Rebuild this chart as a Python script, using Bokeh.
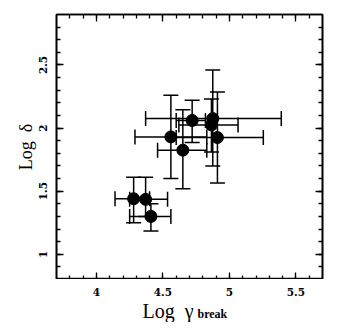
import numpy as np
from bokeh.plotting import figure
from bokeh.layouts import column
from bokeh.models import (ColumnDataSource, Whisker, TeeHead, FixedTicker, LinearAxis,
                          Range1d)
from bokeh.core.properties import value
from bokeh.embed import file_html
from bokeh.resources import INLINE

# ---- data ----
log_gamma = [4.28, 4.37, 4.41, 4.56, 4.65, 4.72, 4.875, 4.865, 4.91]
log_delta = [1.44, 1.435, 1.30, 1.93, 1.825, 2.06, 2.075, 2.025, 1.925]
gamma_lo = [4.14, 4.25, 4.25, 4.29, 4.46, 4.60, 4.37, 4.62, 4.60]
gamma_hi = [4.40, 4.535, 4.56, 4.83, 4.83, 4.82, 5.39, 5.065, 5.255]
delta_lo = [1.25, 1.30, 1.185, 1.60, 1.52, 1.885, 1.70, 1.81, 1.565]
delta_hi = [1.61, 1.61, 1.40, 2.26, 2.145, 2.22, 2.46, 2.23, 2.285]

x_ticks = [4, 4.5, 5, 5.5]
x_tick_labels = ["4", "4.5", "5", "5.5"]
y_ticks = [1, 1.5, 2, 2.5]
y_tick_labels = ["1", "1.5", "2", "2.5"]
x_range = (3.7, 5.7)
y_range = (0.8, 2.9)
x_title_main = "Log\u2002γ"
x_title_sub = "break"
y_title = "Log\u2002δ"

x_minor = [round(v, 1) for v in np.arange(3.8, 5.65, 0.1)]
y_minor = [round(v, 1) for v in np.arange(0.9, 2.85, 0.1)]

src = ColumnDataSource(dict(x=log_gamma, y=log_delta, xl=gamma_lo, xh=gamma_hi,
                            yl=delta_lo, yh=delta_hi))

FONT = "Liberation Serif"
TICK_FONT = "DejaVu Serif"

xr = Range1d(*x_range)
p = figure(frame_width=266, frame_height=265, output_backend="svg", toolbar_location=None,
           x_range=xr, y_range=Range1d(*y_range),
           min_border_left=56, min_border_top=14, min_border_right=16, min_border_bottom=0,
           x_axis_location=None, y_axis_location=None)
p.grid.visible = False
p.background_fill_color = "white"
p.border_fill_color = "white"
p.outline_line_color = "black"
p.outline_line_width = 1.6


def make_axis(ticks, minor, labels, show):
    ax = LinearAxis(ticker=FixedTicker(ticks=ticks, minor_ticks=minor))
    ax.major_tick_in = 7
    ax.major_tick_out = 0
    ax.minor_tick_in = 4
    ax.minor_tick_out = 0
    ax.major_tick_line_width = 1.3
    ax.minor_tick_line_width = 1.3
    ax.major_tick_line_color = "black"
    ax.minor_tick_line_color = "black"
    ax.axis_line_color = "black"
    ax.axis_line_width = 1.6
    if show:
        ax.major_label_overrides = {t: l for t, l in zip(ticks, labels)}
        ax.major_label_text_font = TICK_FONT
        ax.major_label_text_font_style = "bold"
        ax.major_label_text_font_size = "10.5px"
        ax.major_label_text_color = "black"
    else:
        ax.major_label_overrides = {t: "" for t in ticks}
        ax.major_label_text_font_size = "1px"
        ax.major_label_standoff = 0
    return ax


# bottom/top/right axes carry ticks only; bottom tick labels are drawn in the strip below
p.add_layout(make_axis(x_ticks, x_minor, x_tick_labels, False), "below")
p.add_layout(make_axis(x_ticks, x_minor, x_tick_labels, False), "above")

yl = make_axis(y_ticks, y_minor, y_tick_labels, True)
yl.major_label_orientation = "vertical"
yl.major_label_standoff = 9
yl.axis_label = y_title
yl.axis_label_text_font = FONT
yl.axis_label_text_font_style = "normal"
yl.axis_label_text_font_size = "18px"
yl.axis_label_text_color = "black"
yl.axis_label_standoff = 1
p.add_layout(yl, "left")
p.add_layout(make_axis(y_ticks, y_minor, y_tick_labels, False), "right")

# error bars
for base, lo, hi, dim in (("x", "yl", "yh", "height"), ("y", "xl", "xh", "width")):
    p.add_layout(Whisker(source=src, base=base, lower=lo, upper=hi, dimension=dim,
                         line_color="black", line_width=1.5,
                         upper_head=TeeHead(size=15, line_width=1.5, line_color="black"),
                         lower_head=TeeHead(size=15, line_width=1.5, line_color="black")))

p.scatter("x", "y", source=src, size=12, fill_color="black", line_color="black")

# strip under the plot: x tick labels and the x-axis title (shares the x range)
H = 43
t = figure(frame_width=266, frame_height=H, output_backend="svg", toolbar_location=None,
           x_range=xr, y_range=Range1d(H, 0),
           min_border_left=56, min_border_right=16, min_border_top=0, min_border_bottom=0,
           x_axis_location=None, y_axis_location=None)
t.grid.visible = False
t.outline_line_color = None
t.background_fill_color = "white"
t.border_fill_color = "white"
t.text(x=x_ticks, y=[12] * len(x_ticks), text=x_tick_labels, text_font=value(TICK_FONT),
       text_font_style="bold", text_font_size="10.5px", text_color="black",
       text_baseline="alphabetic", text_align="center")
t.text(x=[4.347], y=[31], text=[x_title_main], text_font=value(FONT), text_font_size="20px",
       text_color="black", text_baseline="alphabetic", text_align="left")
t.text(x=[4.76], y=[34], text=[x_title_sub], text_font=value(FONT), text_font_style="bold",
       text_font_size="12px", text_color="black", text_baseline="alphabetic",
       text_align="left")

layout = column(p, t, spacing=0)
open("out.html", "w").write(file_html(layout, INLINE))
